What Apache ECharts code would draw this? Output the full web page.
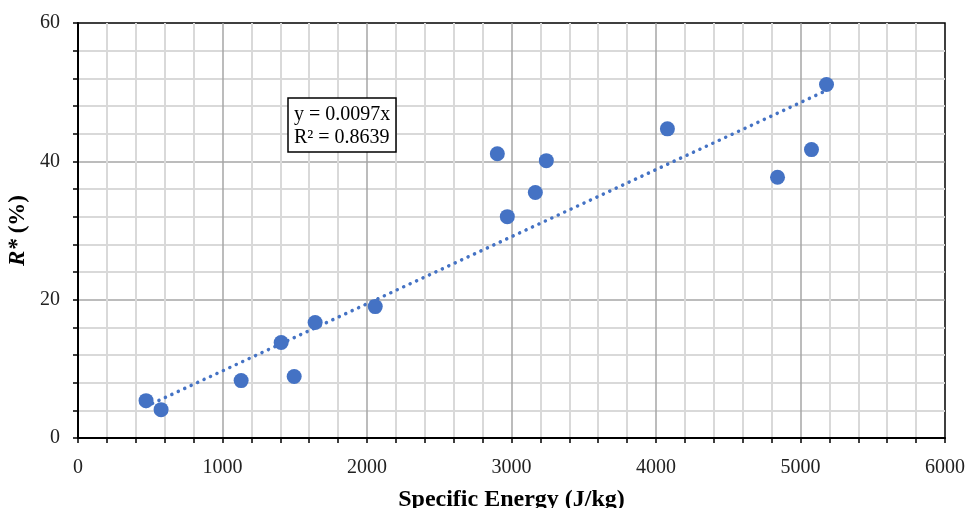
<!DOCTYPE html>
<html>
<head>
<meta charset="utf-8">
<script src="https://cdn.jsdelivr.net/npm/echarts@6/dist/echarts.min.js"></script>
<style>
  html, body { margin: 0; padding: 0; background: #fff; }
  #main { width: 969px; height: 508px; }
</style>
</head>
<body>
<div id="main"></div>
<script>
// measured points: specific energy (J/kg) vs R* (%)
var energy = [471, 575, 1129, 1406, 1496, 1641, 2057, 2902, 2971, 3165, 3241, 4079, 4841, 5076, 5180];
var rStar = [5.4, 4.1, 8.3, 13.8, 8.9, 16.7, 19.0, 41.1, 32.0, 35.5, 40.1, 44.7, 37.7, 41.7, 51.1];

// linear trend through origin, y = 0.0097x, drawn over the data range
var trendX = [471, 5180];
var trendY = [4.57, 50.25];

var xTicks = [0, 1000, 2000, 3000, 4000, 5000, 6000];
var yTicks = [0, 20, 40, 60];

var serif = '"Liberation Serif", "Times New Roman", serif';

var chartDom = document.getElementById('main');
var myChart = echarts.init(chartDom);
var option;

var points = energy.map(function (x, i) { return [x, rStar[i]]; });
var trend = trendX.map(function (x, i) { return [x, trendY[i]]; });

option = {
  animation: false,
  title: {
    text: 'y = 0.0097x\nR² = 0.8639',
    left: 288,
    top: 98,
    padding: [5, 6, 3, 6],
    borderColor: '#000',
    borderWidth: 1.5,
    backgroundColor: '#fff',
    textStyle: {
      fontFamily: serif,
      fontSize: 20,
      fontWeight: 'normal',
      color: '#000',
      lineHeight: 23
    }
  },
  grid: {
    left: 78,
    right: 24,
    top: 23,
    bottom: 70,
    containLabel: false,
    outerBoundsMode: 'none',
    show: true,
    borderColor: '#000',
    borderWidth: 1.5,
    backgroundColor: 'transparent'
  },
  xAxis: {
    type: 'value',
    min: xTicks[0],
    max: xTicks[xTicks.length - 1],
    interval: 1000,
    name: 'Specific Energy (J/kg)',
    nameLocation: 'middle',
    nameGap: 50,
    nameTextStyle: {
      fontFamily: serif,
      fontSize: 24,
      fontWeight: 'bold',
      color: '#000'
    },
    axisLine: { show: true, onZero: false, lineStyle: { color: '#000', width: 2 } },
    axisTick: { show: true, length: 5, lineStyle: { color: '#000', width: 1.5 } },
    minorTick: { show: true, splitNumber: 5, length: 5, lineStyle: { color: '#000', width: 1.5 } },
    axisLabel: {
      fontFamily: serif, fontSize: 20, color: '#222', margin: 20,
      formatter: function (v) { return String(v); }
    },
    splitLine: { show: true, showMinLine: false, showMaxLine: false, lineStyle: { color: '#a6a6a6', width: 1.5 } },
    minorSplitLine: { show: true, lineStyle: { color: '#d9d9d9', width: 2 } }
  },
  yAxis: {
    type: 'value',
    min: yTicks[0],
    max: yTicks[yTicks.length - 1],
    interval: 20,
    name: '{i|R*} (%)',
    nameLocation: 'middle',
    nameGap: 42,
    nameTextStyle: {
      fontFamily: serif,
      fontSize: 23,
      fontWeight: 'bold',
      color: '#000',
      rich: {
        i: { fontFamily: serif, fontSize: 23, fontWeight: 'bold', fontStyle: 'italic', color: '#000' }
      }
    },
    axisLine: { show: true, onZero: false, lineStyle: { color: '#000', width: 2 } },
    axisTick: { show: true, length: 5, lineStyle: { color: '#000', width: 1.5 } },
    minorTick: { show: true, splitNumber: 5, length: 5, lineStyle: { color: '#000', width: 1.5 } },
    axisLabel: { fontFamily: serif, fontSize: 20, color: '#222', margin: 18 },
    splitLine: { show: true, showMinLine: false, showMaxLine: false, lineStyle: { color: '#a6a6a6', width: 1.5 } },
    minorSplitLine: { show: true, lineStyle: { color: '#d9d9d9', width: 2 } }
  },
  series: [
    {
      name: 'Trend',
      type: 'line',
      data: trend,
      showSymbol: false,
      symbol: 'none',
      silent: true,
      z: 3,
      lineStyle: { color: '#4472C4', width: 3.5, type: [0.1, 7], cap: 'round' }
    },
    {
      name: 'R*',
      type: 'scatter',
      data: points,
      symbolSize: 15,
      z: 4,
      itemStyle: { color: '#4472C4', opacity: 1 }
    }
  ]
};

option && myChart.setOption(option);
</script>
</body>
</html>
